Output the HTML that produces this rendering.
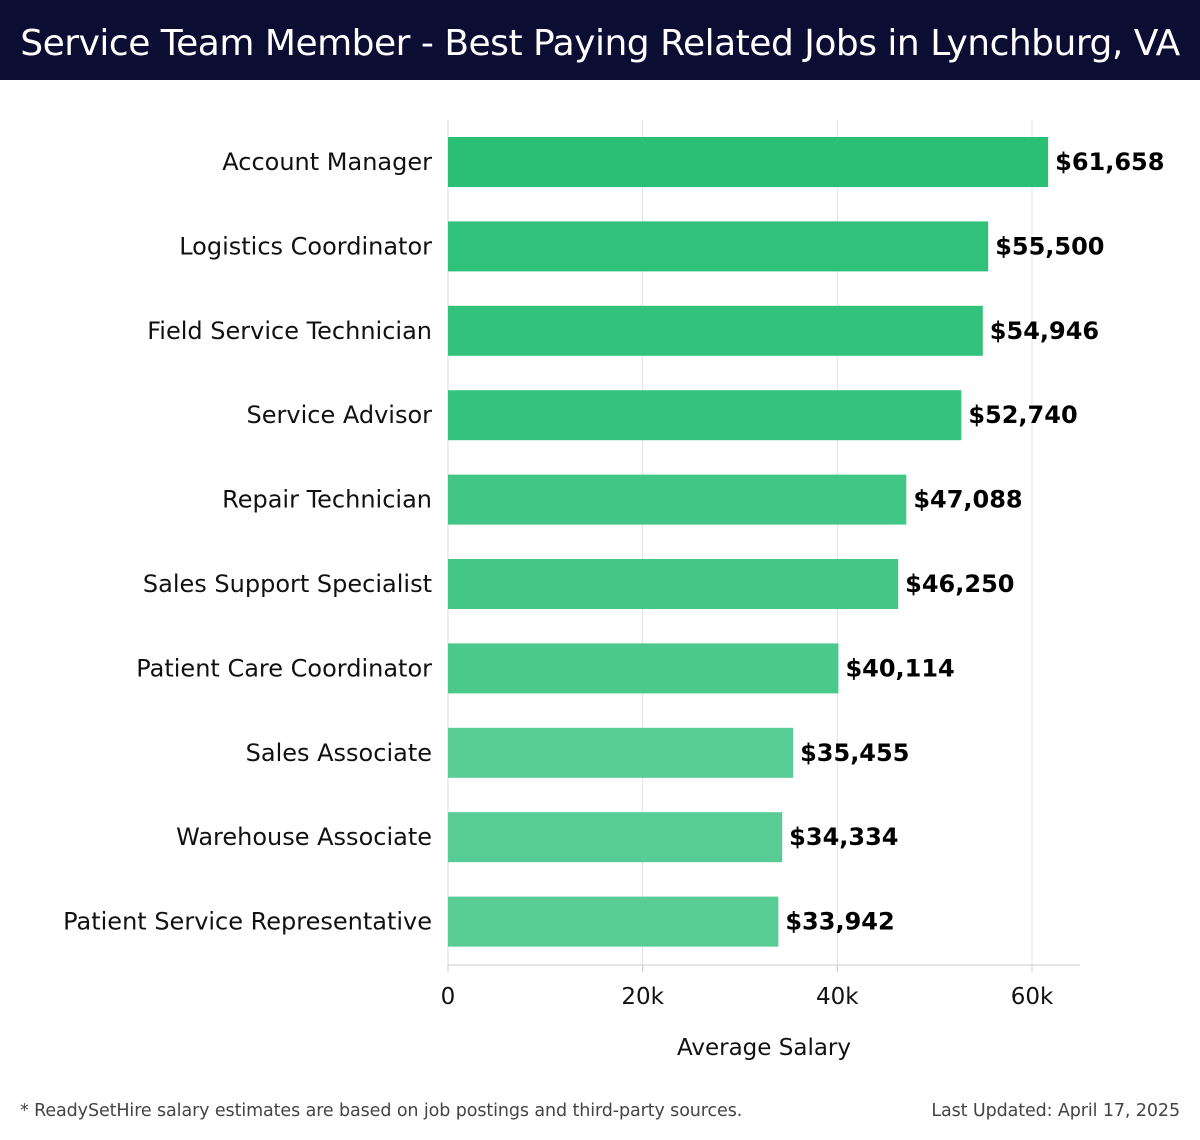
<!DOCTYPE html>
<html><head><meta charset="utf-8"><style>
body{margin:0;width:1200px;height:1140px;background:#fff;font-family:"DejaVu Sans","Liberation Sans",sans-serif;overflow:hidden;position:relative}
#hdr{position:absolute;left:0;top:0;width:1200px;height:80px;background:#0b0d33;color:#fff;font-size:36px;line-height:88px;text-align:center;white-space:nowrap;letter-spacing:-0.5px}
.foot{position:absolute;top:1101px;font-size:17.5px;color:#444;letter-spacing:-0.1px}
</style></head><body>
<div id="hdr">Service Team Member - Best Paying Related Jobs in Lynchburg, VA</div>
<svg id="chart" width="1200" height="1140" style="position:absolute;left:0;top:0"></svg>
<div class="foot" style="left:20px">* ReadySetHire salary estimates are based on job postings and third-party sources.</div>
<div class="foot" style="right:20px">Last Updated: April 17, 2025</div>
<script>
const categories=["Account Manager","Logistics Coordinator","Field Service Technician","Service Advisor","Repair Technician","Sales Support Specialist","Patient Care Coordinator","Sales Associate","Warehouse Associate","Patient Service Representative"];
const values=[61658,55500,54946,52740,47088,46250,40114,35455,34334,33942];
const ticks=[0,20000,40000,60000];
const tickLabels=["0","20k","40k","60k"];
const colors=["#2bbf76","#30c17a","#33c27b","#36c37d","#42c686","#44c787","#4bc98b","#57cc94","#57cc94","#57cc94"];
const svg=document.getElementById('chart');const NS="http://www.w3.org/2000/svg";
const x0=448,pxPer=(1032-448)/60000,top0=120,step=84.4,barH=50;
const xs=v=>x0+v*pxPer;const yc=i=>top0+42+i*step;
function mk(t,a,txt){const e=document.createElementNS(NS,t);for(const k in a)e.setAttribute(k,a[k]);if(txt!==undefined)e.textContent=txt;svg.appendChild(e);return e;}
ticks.forEach((t,i)=>{
const g=mk('line',{x1:xs(t),x2:xs(t),y1:top0,y2:965,stroke:'#e2e2e2','stroke-width':1});


const tk=mk('line',{x1:xs(t),x2:xs(t),y1:965,y2:972,stroke:'#ccc'});


const l=mk('text',{x:xs(t),y:1004,'text-anchor':'middle','font-size':23,fill:'#111'},tickLabels[i]);


});
const ax=mk('line',{x1:x0,x2:1080,y1:965,y2:965,stroke:'#ccc'});


const ay=mk('line',{x1:x0,x2:x0,y1:top0,y2:965,stroke:'#ddd'});


categories.forEach((c,i)=>{
const y=yc(i);
const r=mk('rect',{x:x0,y:y-barH/2,width:xs(values[i])-x0,height:barH,fill:colors[i]});


const l=mk('text',{x:432,y:y+8,'text-anchor':'end','font-size':24,fill:'#111'},c);


const v=mk('text',{x:xs(values[i])+7,y:y+8,'font-size':24,'font-weight':'bold',fill:'#000'},'$'+values[i].toLocaleString('en-US'));


});
const at=mk('text',{x:764,y:1055,'text-anchor':'middle','font-size':23,fill:'#111'},'Average Salary');


</script>
</body></html>
